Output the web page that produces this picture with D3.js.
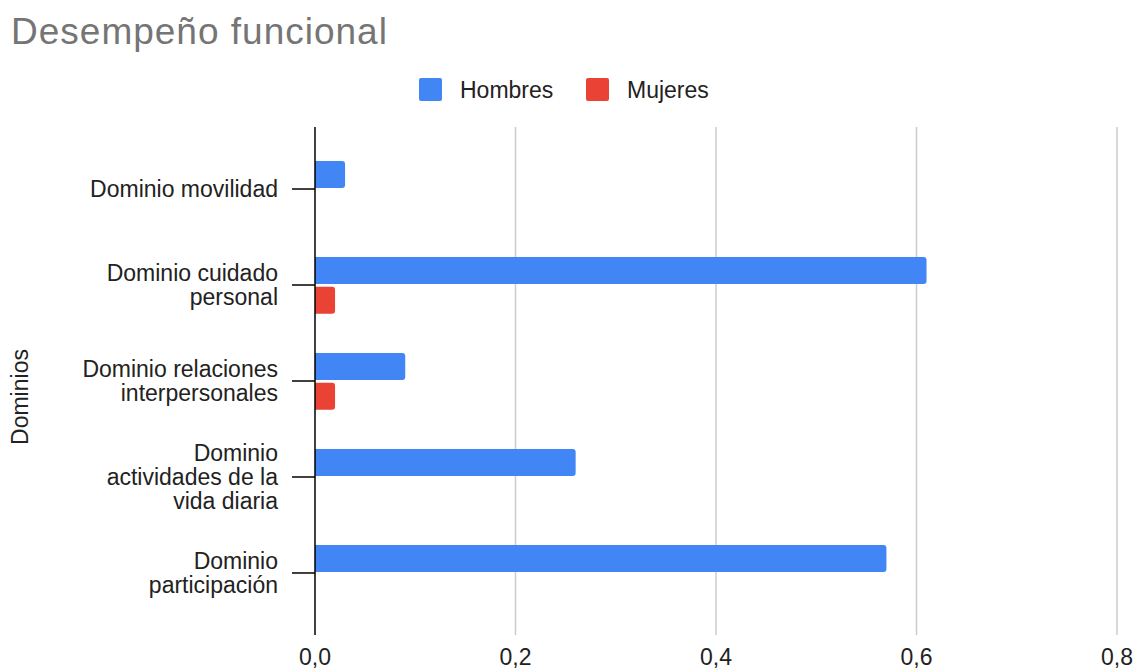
<!DOCTYPE html>
<html>
<head>
<meta charset="utf-8">
<script src="https://cdn.jsdelivr.net/npm/d3@7"></script>
<style>
  body { margin: 0; background: #fff; }
  text { font-family: Arial, "Liberation Sans", sans-serif; }
</style>
</head>
<body>
<div id="chart"></div>
<script>
// data
const categories = [
  ["Dominio movilidad"],
  ["Dominio cuidado", "personal"],
  ["Dominio relaciones", "interpersonales"],
  ["Dominio", "actividades de la", "vida diaria"],
  ["Dominio", "participación"]
];
const seriesNames = ["Hombres", "Mujeres"];
const hombres = [0.03, 0.61, 0.09, 0.26, 0.57];
const mujeres = [0, 0.02, 0.02, 0, 0];
const xTicks = [0, 0.2, 0.4, 0.6, 0.8];
const colors = ["#4285F4", "#EA4335"];

const W = 1134, H = 670;
const M = { LEFT: 315, RIGHT: 17, TOP: 127, BOTTOM: 35 };

const svg = d3.select("#chart").append("svg")
  .attr("width", W).attr("height", H);

svg.append("text")
  .attr("x", 11).attr("y", 43.5)
  .attr("fill", "#757575")
  .style("font-size", "37px")
  .style("letter-spacing", "1px")
  .text("Desempeño funcional");

// legend
const legend = svg.append("g");
const legendX = [419, 586];
seriesNames.forEach((name, i) => {
  legend.append("rect")
    .attr("x", legendX[i]).attr("y", 78)
    .attr("width", 23).attr("height", 23)
    .attr("rx", 2)
    .attr("fill", colors[i]);
  legend.append("text")
    .attr("x", legendX[i] + 41).attr("y", 89.5)
    .attr("dominant-baseline", "central")
    .attr("fill", "#222")
    .style("font-size", "23px")
    .text(name);
});

const x = d3.scaleLinear().domain([0, 0.8]).range([M.LEFT, W - M.RIGHT]);
const idx = d3.range(categories.length);
const y = d3.scalePoint().domain(idx).range([M.TOP, H - M.BOTTOM]).padding(0.646);

// gridlines
svg.append("g").selectAll("line")
  .data(xTicks.slice(1))
  .enter().append("line")
  .attr("x1", d => x(d)).attr("x2", d => x(d))
  .attr("y1", M.TOP).attr("y2", H - M.BOTTOM)
  .attr("stroke", "#cccccc").attr("stroke-width", 1.5);

// bars with rounded right end
function barPath(x0, x1, y0, h, r) {
  const w = x1 - x0;
  if (w <= 0) return null;
  r = Math.min(r, w, h / 2);
  return `M${x0},${y0}H${x1 - r}Q${x1},${y0} ${x1},${y0 + r}V${y0 + h - r}Q${x1},${y0 + h} ${x1 - r},${y0 + h}H${x0}Z`;
}
const barH = 27;
const series = [hombres, mujeres];
const offsets = [-28, 1.8];
series.forEach((vals, s) => {
  svg.append("g").selectAll("path")
    .data(vals.map((v, i) => ({ v, i })).filter(d => d.v > 0))
    .enter().append("path")
    .attr("d", d => barPath(x(0), x(d.v), y(d.i) + offsets[s], barH, 3))
    .attr("fill", colors[s]);
});

// axis line & ticks
svg.append("line")
  .attr("x1", x(0)).attr("x2", x(0))
  .attr("y1", M.TOP).attr("y2", H - M.BOTTOM)
  .attr("stroke", "#000").attr("stroke-width", 1.5);
svg.append("g").selectAll("line")
  .data(idx)
  .enter().append("line")
  .attr("x1", x(0) - 23).attr("x2", x(0))
  .attr("y1", d => y(d)).attr("y2", d => y(d))
  .attr("stroke", "#000").attr("stroke-width", 1.5);

// category labels
const lineH = 24;
svg.append("g").selectAll("text")
  .data(idx)
  .enter().append("text")
  .attr("text-anchor", "end")
  .attr("fill", "#222")
  .style("font-size", "23px")
  .each(function(d) {
    const lines = categories[d];
    const startY = y(d) - (lines.length - 1) * lineH / 2;
    d3.select(this).selectAll("tspan")
      .data(lines)
      .enter().append("tspan")
      .attr("x", 278)
      .attr("y", (l, i) => startY + i * lineH)
      .attr("dominant-baseline", "central")
      .text(l => l);
  });

// x tick labels
svg.append("g").selectAll("text")
  .data(xTicks)
  .enter().append("text")
  .attr("x", d => x(d)).attr("y", 657)
  .attr("text-anchor", "middle")
  .attr("dominant-baseline", "central")
  .attr("fill", "#222")
  .style("font-size", "23px")
  .text(d => d3.format(".1f")(d).replace(".", ","));

// y axis title
svg.append("text")
  .attr("transform", "translate(20,397) rotate(-90)")
  .attr("text-anchor", "middle")
  .attr("dominant-baseline", "central")
  .attr("fill", "#222")
  .style("font-size", "23px")
  .text("Dominios");
</script>
</body>
</html>
